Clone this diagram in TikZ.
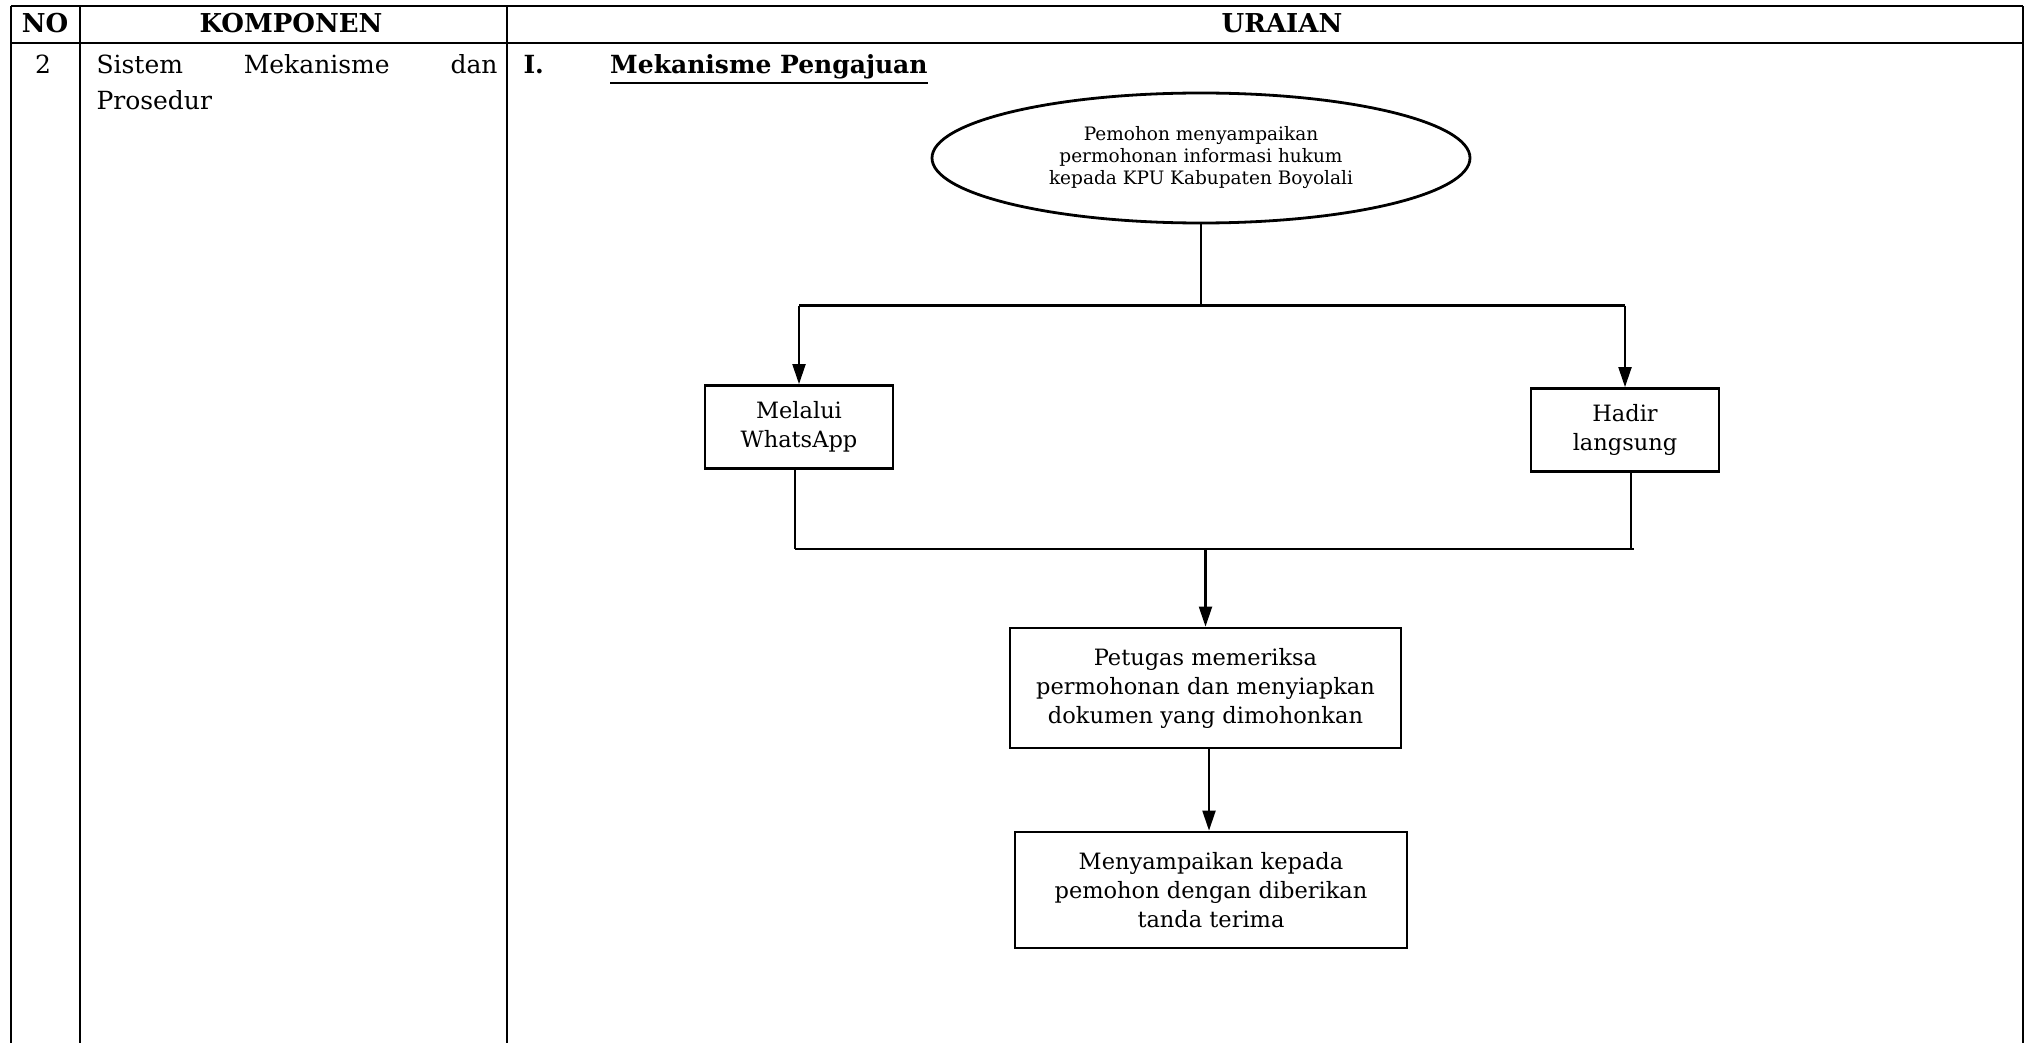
\documentclass[tikz,border=0pt]{standalone}
\usepackage{fontspec}
\setmainfont{DejaVu Serif}
\usetikzlibrary{arrows.meta,shapes.geometric}
\begin{document}
\begin{tikzpicture}[x=1pt,y=-1pt,
  tbl/.style={line width=2.8pt},
  boxnode/.style={draw,line width=2.8pt,align=center,inner sep=0pt,
    font=\fontsize{22.5}{29}\selectfont},
  conn/.style={line width=2.1pt},
  arr/.style={line width=2.1pt,-{Triangle[length=20pt,width=13pt]}},
  hdr/.style={font=\fontsize{26}{30}\selectfont\bfseries,anchor=base},
  cell/.style={font=\fontsize{25}{36}\selectfont,anchor=base west}]
\useasboundingbox (0,0) rectangle (2030,1043);

% table frame
\draw[tbl] (11,6) -- (2023,6);
\draw[tbl] (11,43) -- (2023,43);
\draw[tbl] (11,6) -- (11,1043);
\draw[tbl] (80,6) -- (80,1043);
\draw[tbl] (507,6) -- (507,1043);
\draw[tbl] (2023,6) -- (2023,1043);

% header
\node[hdr] (hno) at (45,33) {NO};
\node[hdr] (hkomp) at (291,33) {KOMPONEN};
\node[hdr] (hurai) at (1282,33) {URAIAN};

% row
\node[cell,anchor=base] (no2) at (43,74) {2};
\node[cell] (komp1) at (93,74) {\makebox[401pt][s]{Sistem Mekanisme dan}};
\node[cell] (komp2) at (93,110) {Prosedur};
\node[cell,font=\fontsize{25}{36}\selectfont\bfseries] (num) at (520,74) {I.};
\node[cell,inner sep=0pt,font=\fontsize{25}{36}\selectfont\bfseries] (title) at (610,74) {Mekanisme Pengajuan};
\draw[line width=2.2pt] ([yshift=-9pt]title.base west) -- ([yshift=-9pt]title.base east);

% flowchart
\node[ellipse,draw,line width=2.8pt,minimum width=538pt,minimum height=130pt,
  inner sep=0pt,align=center,font=\fontsize{18.5}{22}\selectfont] (ell) at (1201,158)
  {Pemohon menyampaikan\\permohonan informasi hukum\\kepada KPU Kabupaten Boyolali};

\node[boxnode,minimum width=188pt,minimum height=83pt] (wa) at (799,427) {Melalui\\WhatsApp};
\node[boxnode,minimum width=188pt,minimum height=83pt] (hadir) at (1625,430) {Hadir\\langsung};
\node[boxnode,minimum width=391pt,minimum height=120pt] (petugas) at (1205.5,688)
  {Petugas memeriksa\\permohonan dan menyiapkan\\dokumen yang dimohonkan};
\node[boxnode,minimum width=392pt,minimum height=116pt] (sampai) at (1211,890)
  {Menyampaikan kepada\\pemohon dengan diberikan\\tanda terima};

\coordinate (forkY) at (0,305.5);
\coordinate (mergeY) at (0,549);

\draw[conn] (ell.south) -- (ell.south |- forkY);
\draw[conn] (wa.north |- forkY) -- (hadir.north |- forkY);
\draw[arr] (wa.north |- forkY) -- (wa.north);
\draw[arr] (hadir.north |- forkY) -- (hadir.north);

\draw[conn] ([xshift=-4pt]wa.south) -- ([xshift=-4pt]wa.south |- mergeY);
\draw[conn] ([xshift=6pt]hadir.south) -- ([xshift=6pt]hadir.south |- mergeY);
\draw[conn] ([xshift=-4pt]wa.south |- mergeY) -- ([xshift=9pt]hadir.south |- mergeY);
\draw[arr] (petugas.north |- mergeY) -- (petugas.north);
\draw[arr] ([xshift=-2pt]sampai.north |- petugas.south) -- ([xshift=-2pt]sampai.north);
\end{tikzpicture}
\end{document}
